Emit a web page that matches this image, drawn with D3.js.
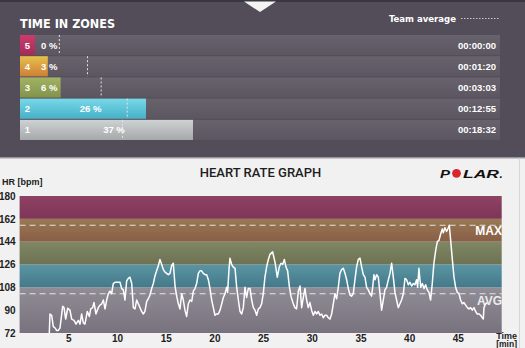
<!DOCTYPE html>
<html><head><meta charset="utf-8">
<script src="https://cdn.jsdelivr.net/npm/d3@7"></script>
<style>body{margin:0;background:#f1f1f1;overflow:hidden} svg{display:block}</style>
</head><body><svg id="c" width="525" height="348"></svg>
<script>
// ---------- data ----------
const zones = ["5","4","3","2","1"];
const zonePct = [0,3,6,26,37];
const teamAvgPct = [5.7,12.3,15.5,21.6,20.5];
const zoneTimes = ["00:00:00","00:01:20","00:03:03","00:12:55","00:18:32"];
const hrTicks = [72,90,108,126,144,162,180];
const timeTicks = [5,10,15,20,25,30,35,40,45];
const bandLimits = [72,108,126,144,162,180];
const maxHr = 157, avgHr = 103;
const minutes = [3.05,3.12,3.29,3.46,3.63,3.81,3.98,4.15,4.42,4.56,4.73,4.94,5.17,5.35,5.59,5.79,6.03,6.20,6.37,6.54,6.71,6.95,7.16,7.30,7.50,7.64,7.84,8.08,8.25,8.43,8.60,8.77,8.94,9.11,9.28,9.45,9.62,9.80,10.14,10.31,10.48,10.65,10.82,10.99,11.16,11.33,11.51,11.68,11.85,12.02,12.19,12.36,12.53,12.70,12.87,13.05,13.22,13.39,13.56,13.73,13.90,14.07,14.24,14.41,14.59,14.76,14.93,15.10,15.27,15.44,15.61,15.78,15.96,16.13,16.30,16.47,16.64,16.81,16.98,17.15,17.32,17.50,17.67,17.84,18.01,18.18,18.35,18.52,18.69,18.86,19.04,19.21,19.38,19.55,19.72,19.89,20.06,20.23,20.40,20.58,20.75,20.92,21.09,21.26,21.36,21.50,21.60,21.77,21.94,22.12,22.29,22.46,22.63,22.80,22.97,23.14,23.31,23.48,23.66,23.83,24.00,24.17,24.34,24.51,24.68,24.85,25.02,25.19,25.36,25.54,25.71,25.98,26.22,26.46,26.66,26.84,27.01,27.18,27.35,27.52,27.69,27.86,28.10,28.27,28.44,28.62,28.79,28.96,29.13,29.30,29.47,29.64,29.81,29.98,30.16,30.33,30.50,30.67,30.84,31.01,31.18,31.35,31.52,31.70,31.87,32.04,32.21,32.38,32.55,32.72,32.89,33.06,33.24,33.41,33.58,33.75,33.92,34.09,34.26,34.43,34.60,34.78,34.95,35.12,35.29,35.46,35.63,35.80,35.97,36.14,36.25,36.38,36.49,36.66,36.83,37.00,37.17,37.34,37.51,37.68,37.86,38.03,38.20,38.37,38.54,38.71,38.88,39.05,39.22,39.40,39.57,39.74,39.91,40.08,40.25,40.42,40.59,40.76,40.87,41.00,41.18,41.35,41.52,41.69,41.86,42.03,42.20,42.37,42.54,42.72,42.89,43.06,43.23,43.40,43.50,43.67,43.84,44.02,44.12,44.26,44.43,44.60,44.77,44.94,45.11,45.28,45.45,45.62,45.80,45.97,46.14,46.31,46.48,46.65,46.82,46.99,47.16,47.34,47.51,47.61,47.68,47.85,48.02];
const bpm = [72,87,86,77,76,74,74,76,93,92,83,91.5,90,83,82,79,82,79,87,80,79,89,85,91,92,96,87,92,94,95,98,91,98,103,105,103,111,112,112,112,107,106,98,113,115,116,111,92,91,98,95,92,89,87,89,97,99,102,107,111,117,121,125,130,126,122,120,119,118,119,125,127,109,101,95,91,103,98,90,85,95,98,97,105,107,111,119,121,121,119,118,118,114,107,98,92,86,87,87,90,95,100,103,108,104,122,131,126,124,123,108,98,89,87,92,108,100,107,107,98,92,90,86,91,92,95,103,116,124,130,134,136,128,116,124,127,126,130,124,121,109,101,95,92,91,105,109,92,100,107,98,92,96,90,86,89,87,89,86,87,84,86,86,84,83,87,95,103,99,108,119,122,123,119,114,107,102,101,103,114,124,130,131,124,118,116,108,106,103,101,108,118,114,118,116,103,90,98,106,108,114,119,127,116,104,98,92,95,98,103,115,114,110,112,109,111,110,114,108,123,108,111,107,110,106,104,98,111,127,137,144,145,150,154,151,155,152,155,157,145,130,116,108,104,103,98,95,96,94,92,91,92,90,92,89,87,87,86,84,83,92,95,96];

// ---------- setup ----------
const svg = d3.select("#c");
const defs = svg.append("defs");
const bold = "'Liberation Sans Narrow','DejaVu Sans Condensed','Liberation Sans',sans-serif";
const sans = "'Liberation Sans',Arial,sans-serif";
function grad(id, top, bot){
  const g = defs.append("linearGradient").attr("id",id).attr("x1",0).attr("y1",0).attr("x2",0).attr("y2",1);
  g.append("stop").attr("offset","0%").attr("stop-color",top);
  g.append("stop").attr("offset","100%").attr("stop-color",bot);
}

// ---------- top panel ----------
svg.append("rect").attr("x",0).attr("y",0).attr("width",525).attr("height",157).attr("fill","#524d58");
svg.append("rect").attr("x",0).attr("y",0).attr("width",525).attr("height",2).attr("fill","#3b3740");
svg.append("rect").attr("x",0).attr("y",157).attr("width",525).attr("height",1.5).attr("fill","#9a979c");
svg.append("path").attr("d","M244,1.5 L276,1.5 L260,12 Z").attr("fill","#f4f4f4");

svg.append("text").attr("x",20).attr("y",28).text("TIME IN ZONES")
  .attr("fill","#fff").attr("font-family",bold).attr("font-weight","bold").attr("font-size",12.5);
svg.append("text").attr("x",456).attr("y",22).attr("text-anchor","end").text("Team average")
  .attr("fill","#fff").attr("font-family",bold).attr("font-weight","bold").attr("font-size",9.5);
svg.append("line").attr("x1",461).attr("x2",500).attr("y1",18.5).attr("y2",18.5)
  .attr("stroke","#c8c5cc").attr("stroke-width",1).attr("stroke-dasharray","1.5,1.5");

const zoneCols = [["#cc3c6c","#a42a58"],["#e6c04c","#d07e36"],["#a2b264","#83934a"],["#78d8e8","#46b0c8"],["#cfd2d2","#a6a9aa"]];
zoneCols.forEach((c,i)=>grad("zg"+i,c[0],c[1]));
grad("rowg","#67626c","#5b5660");

const rowY = d3.scaleBand().domain(zones).range([35,140]).paddingInner(0.05);
const px = d3.scaleLinear().domain([0,100]).range([35,462]);
const boxW = 15;

const rows = svg.append("g").selectAll("g").data(zones).join("g");
rows.append("rect").attr("x",20).attr("y",d=>rowY(d)).attr("width",480).attr("height",rowY.bandwidth()).attr("fill","url(#rowg)");
rows.append("rect").attr("x",20).attr("y",d=>rowY(d)).attr("width",(d,i)=>px(zonePct[i])-20).attr("height",rowY.bandwidth())
  .attr("fill",(d,i)=>"url(#zg"+i+")");
rows.append("line").attr("x1",(d,i)=>px(teamAvgPct[i])).attr("x2",(d,i)=>px(teamAvgPct[i]))
  .attr("y1",d=>rowY(d)).attr("y2",d=>rowY(d)+rowY.bandwidth())
  .attr("stroke","#e4e2e6").attr("stroke-width",1).attr("stroke-dasharray","2,2");
const tfont = sel => sel.attr("fill","#fff").attr("font-family",sans).attr("font-weight","bold").attr("font-size",9.5).attr("dominant-baseline","central");
rows.append("text").attr("x",20+boxW/2).attr("y",d=>rowY(d)+rowY.bandwidth()/2).attr("text-anchor","middle").text(d=>d).call(tfont);
rows.append("text")
  .attr("x",(d,i)=>zonePct[i]<10 ? px(0)+6 : (px(0)+px(zonePct[i]))/2)
  .attr("text-anchor",(d,i)=>zonePct[i]<10?"start":"middle")
  .attr("y",d=>rowY(d)+rowY.bandwidth()/2).text((d,i)=>zonePct[i]+" %").call(tfont);
rows.append("text").attr("x",496).attr("y",d=>rowY(d)+rowY.bandwidth()/2).attr("text-anchor","end").text((d,i)=>zoneTimes[i]).call(tfont);

// ---------- heart rate graph ----------
const x = d3.scaleLinear().domain([0,49.5]).range([19.6,501.7]);
const y = d3.scaleLinear().domain([72,180]).range([333,196]);

const bandCols = [["#918d96","#77727d"],["#5a95a3","#44798a"],["#7f8763","#6d7253"],["#977a52","#8a5d47"],["#8e4264","#7e3558"]];
bandCols.forEach((c,i)=>grad("bg"+i,c[0],c[1]));
svg.append("g").selectAll("rect").data(d3.range(bandLimits.length-1)).join("rect")
  .attr("x",x(0)).attr("width",x(49.5)-x(0))
  .attr("y",i=>y(bandLimits[i+1])).attr("height",i=>y(bandLimits[i])-y(bandLimits[i+1]))
  .attr("fill",i=>"url(#bg"+i+")");

[maxHr,avgHr].forEach(v=>{
  svg.append("line").attr("x1",x(0)).attr("x2",x(49.5)).attr("y1",y(v)).attr("y2",y(v))
    .attr("stroke","#f2eef2").attr("stroke-width",1.1).attr("stroke-dasharray","6,4").attr("opacity",0.9);
});
svg.append("text").attr("x",502).attr("y",y(maxHr)+10).attr("text-anchor","end").text("MAX")
  .attr("fill","#fff").attr("font-family",sans).attr("font-weight","bold").attr("font-size",12);
svg.append("text").attr("x",502).attr("y",y(avgHr)+11).attr("text-anchor","end").text("AVG")
  .attr("fill","#fff").attr("font-family",sans).attr("font-weight","bold").attr("font-size",12).attr("opacity",0.85);

const line = d3.line().x((d,i)=>x(minutes[i])).y(d=>y(d));
svg.append("path").datum(bpm).attr("d",line).attr("fill","none").attr("stroke","#fff").attr("stroke-width",1.5).attr("stroke-linejoin","round");

// axes
const yAxis = d3.axisLeft(y).tickValues(hrTicks).tickSize(0).tickPadding(4);
const ga = svg.append("g").attr("transform","translate(19.6,0)").call(yAxis);
ga.select(".domain").remove();
ga.selectAll("text").attr("font-family",sans).attr("font-weight","bold").attr("font-size",10).attr("fill","#222");
const xAxis = d3.axisBottom(x).tickValues(timeTicks).tickSize(0).tickPadding(2);
const gx = svg.append("g").attr("transform","translate(0,333)").call(xAxis);
gx.select(".domain").remove();
gx.selectAll("text").attr("font-family",sans).attr("font-weight","bold").attr("font-size",10).attr("fill","#222");

svg.append("text").attr("x",2).attr("y",185).text("HR [bpm]")
  .attr("fill","#222").attr("font-family",sans).attr("font-weight","bold").attr("font-size",9);
svg.append("text").attr("x",260.5).attr("y",177).attr("text-anchor","middle").text("HEART RATE GRAPH")
  .attr("fill","#1e1e1e").attr("font-family","Roboto,sans-serif").attr("font-weight",500).attr("font-size",13);
svg.append("text").attr("x",517).attr("y",338.5).attr("text-anchor","end").text("Time")
  .attr("fill","#222").attr("font-family",sans).attr("font-weight","bold").attr("font-size",9);
svg.append("text").attr("x",517).attr("y",347.3).attr("text-anchor","end").text("[min]")
  .attr("fill","#222").attr("font-family",sans).attr("font-weight","bold").attr("font-size",8.5);

// POLAR logo
const logo = svg.append("g").attr("font-family",sans).attr("font-weight","900").attr("font-style","italic").attr("font-size",11.5).attr("fill","#111");
logo.append("text").attr("x",440).attr("y",177.5).attr("textLength",10).attr("lengthAdjust","spacingAndGlyphs").text("P");
logo.append("circle").attr("cx",456.5).attr("cy",173.3).attr("r",4.4).attr("fill","#d8262c");
logo.append("text").attr("x",463).attr("y",177.5).attr("textLength",36).attr("lengthAdjust","spacingAndGlyphs").text("LAR");
logo.append("text").attr("x",499.5).attr("y",177.5).text(".");
svg.append("rect").attr("x",519).attr("y",158).attr("width",1).attr("height",190).attr("fill","#d6d6d6");
</script></body></html>
